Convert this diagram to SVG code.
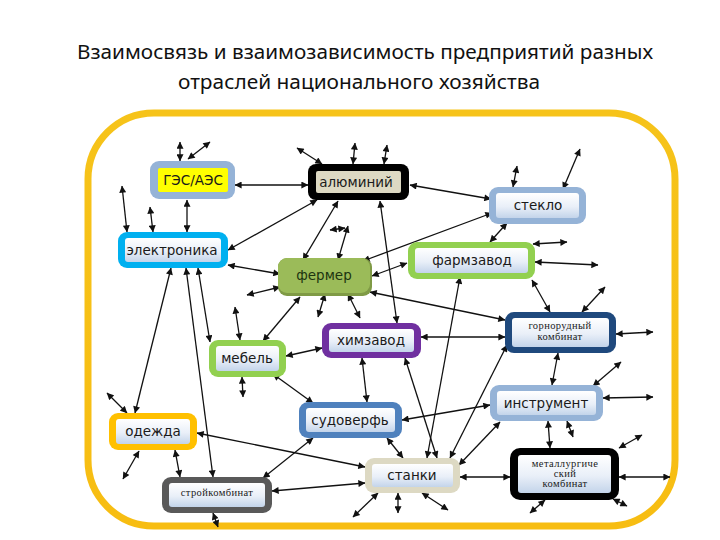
<svg xmlns="http://www.w3.org/2000/svg" width="720" height="540" viewBox="0 0 720 540">
<defs>
<linearGradient id="inner" x1="0" y1="0" x2="0" y2="1">
<stop offset="0" stop-color="#ffffff"/>
<stop offset="0.55" stop-color="#e9eff8"/>
<stop offset="1" stop-color="#c3d4ea"/>
</linearGradient>
<linearGradient id="frameg" x1="0" y1="0" x2="0" y2="1">
<stop offset="0" stop-color="#f6c31a"/>
<stop offset="1" stop-color="#f7bd12"/>
</linearGradient>
<marker id="ah" viewBox="0 0 10 10" refX="9.5" refY="5" markerWidth="8" markerHeight="7" markerUnits="userSpaceOnUse" orient="auto-start-reverse">
<path d="M0,0 L10,5 L0,10 z" fill="#111"/>
</marker>
</defs>
<style>
.title{font-family:"Noto Sans","Open Sans","DejaVu Sans",sans-serif;font-size:20px;fill:#111;text-anchor:middle}
.lbl{font-family:"DejaVu Sans","Verdana",sans-serif;font-size:13.5px;fill:#1a1a1a;text-anchor:middle;dominant-baseline:central}
.sm{font-family:"Liberation Serif","Times New Roman",serif;font-size:10.5px;fill:#1a1a1a;text-anchor:middle;letter-spacing:0.4px}
.in{fill:url(#inner)}
#connectors line{stroke:#111;stroke-width:1.3;marker-start:url(#ah);marker-end:url(#ah)}
</style>
<rect width="720" height="540" fill="#ffffff"/>
<text class="title" x="365" y="59" textLength="576" lengthAdjust="spacingAndGlyphs">Взаимосвязь и взаимозависимость предприятий разных</text>
<text class="title" x="359" y="89" textLength="362" lengthAdjust="spacingAndGlyphs">отраслей национального хозяйства</text>
<rect id="frame" x="88" y="113" width="587" height="413" rx="66" ry="66" fill="none" stroke="url(#frameg)" stroke-width="7"/>

<g id="connectors">
<line x1="180" y1="142" x2="180" y2="161"/>
<line x1="188" y1="159" x2="210" y2="142"/>
<line x1="235" y1="185" x2="308" y2="185"/>
<line x1="187" y1="200" x2="187" y2="232"/>
<line x1="122" y1="186" x2="127" y2="232"/>
<line x1="150" y1="207" x2="153" y2="232"/>
<line x1="228" y1="250" x2="317" y2="200"/>
<line x1="228" y1="265" x2="280" y2="274"/>
<line x1="297" y1="148" x2="322" y2="164"/>
<line x1="355" y1="143" x2="353" y2="164"/>
<line x1="387" y1="145" x2="384" y2="164"/>
<line x1="410" y1="185" x2="491" y2="199"/>
<line x1="338" y1="201" x2="303" y2="260"/>
<line x1="380" y1="201" x2="397" y2="323"/>
<line x1="330" y1="230" x2="345" y2="228"/>
<line x1="348" y1="226" x2="338" y2="260"/>
<line x1="517" y1="166" x2="513" y2="187"/>
<line x1="580" y1="149" x2="563" y2="189"/>
<line x1="492" y1="213" x2="363" y2="261"/>
<line x1="507" y1="223" x2="490" y2="242"/>
<line x1="533" y1="244" x2="567" y2="242"/>
<line x1="535" y1="262" x2="598" y2="265"/>
<line x1="407" y1="263" x2="372" y2="276"/>
<line x1="532" y1="280" x2="550" y2="312"/>
<line x1="460" y1="277" x2="427" y2="458"/>
<line x1="247" y1="295" x2="280" y2="287"/>
<line x1="300" y1="297" x2="263" y2="341"/>
<line x1="325" y1="294" x2="318" y2="317"/>
<line x1="348" y1="294" x2="360" y2="318"/>
<line x1="370" y1="292" x2="505" y2="320"/>
<line x1="171" y1="268" x2="135" y2="413"/>
<line x1="186" y1="268" x2="213" y2="477"/>
<line x1="198" y1="268" x2="210" y2="342"/>
<line x1="235" y1="307" x2="240" y2="340"/>
<line x1="242" y1="377" x2="243" y2="397"/>
<line x1="286" y1="356" x2="322" y2="348"/>
<line x1="273" y1="374" x2="313" y2="403"/>
<line x1="421" y1="337" x2="505" y2="337"/>
<line x1="362" y1="358" x2="367" y2="402"/>
<line x1="405" y1="358" x2="437" y2="458"/>
<line x1="582" y1="312" x2="605" y2="287"/>
<line x1="616" y1="334" x2="653" y2="332"/>
<line x1="558" y1="353" x2="552" y2="385"/>
<line x1="507" y1="345" x2="450" y2="458"/>
<line x1="593" y1="386" x2="621" y2="362"/>
<line x1="603" y1="398" x2="653" y2="397"/>
<line x1="567" y1="421" x2="573" y2="437"/>
<line x1="548" y1="421" x2="550" y2="448"/>
<line x1="490" y1="405" x2="402" y2="420"/>
<line x1="500" y1="422" x2="459" y2="465"/>
<line x1="387" y1="438" x2="403" y2="458"/>
<line x1="313" y1="438" x2="263" y2="478"/>
<line x1="107" y1="393" x2="127" y2="413"/>
<line x1="139" y1="451" x2="123" y2="479"/>
<line x1="175" y1="450" x2="180" y2="477"/>
<line x1="197" y1="433" x2="365" y2="467"/>
<line x1="272" y1="491" x2="365" y2="483"/>
<line x1="213" y1="513" x2="218" y2="527"/>
<line x1="378" y1="493" x2="353" y2="517"/>
<line x1="398" y1="493" x2="398" y2="513"/>
<line x1="422" y1="493" x2="448" y2="510"/>
<line x1="460" y1="477" x2="510" y2="477"/>
<line x1="619" y1="448" x2="642" y2="435"/>
<line x1="619" y1="477" x2="670" y2="477"/>
<line x1="613" y1="499" x2="627" y2="506"/>
<line x1="545" y1="500" x2="530" y2="513"/>
</g>

<g id="n-ges">
<rect x="150" y="161" width="85" height="38" rx="9" fill="#95b3d7"/>
<rect x="158" y="168" width="70" height="24" rx="2" fill="#ffff00"/>
<text class="lbl" x="193" y="180">ГЭС/АЭС</text>
</g>
<g id="n-aluminum">
<rect x="308" y="164" width="101" height="36" rx="8" fill="#000"/>
<rect x="316" y="171" width="85" height="22" rx="2" fill="#ddd9c3"/>
<text class="lbl" x="356" y="182">алюминий</text>
</g>
<g id="n-glass">
<rect x="489" y="187" width="97" height="37" rx="9" fill="#95b3d7"/>
<rect x="496" y="193" width="83" height="25" rx="3" class="in"/>
<text class="lbl" x="538" y="205">стекло</text>
</g>
<g id="n-electronics">
<rect x="118" y="232" width="110" height="36" rx="9" fill="#00b0f0"/>
<rect x="125" y="238" width="96" height="24" rx="3" class="in"/>
<text class="lbl" x="172" y="250">электроника</text>
</g>
<g id="n-pharma">
<rect x="408" y="242" width="127" height="37" rx="9" fill="#92d050"/>
<rect x="415" y="248" width="113" height="25" rx="3" class="in"/>
<text class="lbl" x="472" y="260">фармзавод</text>
</g>
<g id="n-farmer">
<rect x="278" y="258" width="94" height="38" rx="9" fill="#7f9a45"/>
<rect x="278" y="258" width="92" height="35" rx="9" fill="#9bbb59"/>
<text class="lbl" x="324" y="275" style="fill:#1d3510">фермер</text>
</g>
<g id="n-mining">
<rect x="505" y="312" width="111" height="41" rx="9" fill="#1f497d"/>
<rect x="512" y="318" width="97" height="29" rx="3" class="in"/>
<text class="sm" x="560" y="329">горнорудный</text>
<text class="sm" x="560" y="340">комбинат</text>
</g>
<g id="n-chem">
<rect x="322" y="323" width="99" height="35" rx="9" fill="#7030a0"/>
<rect x="329" y="329" width="85" height="23" rx="3" class="in"/>
<text class="lbl" x="371" y="340">химзавод</text>
</g>
<g id="n-furniture">
<rect x="209" y="340" width="77" height="37" rx="9" fill="#92d050"/>
<rect x="216" y="346" width="63" height="25" rx="3" class="in"/>
<text class="lbl" x="247" y="358">мебель</text>
</g>
<g id="n-tools">
<rect x="490" y="385" width="113" height="36" rx="9" fill="#95b3d7"/>
<rect x="497" y="391" width="99" height="24" rx="3" class="in"/>
<text class="lbl" x="546" y="403">инструмент</text>
</g>
<g id="n-shipyard">
<rect x="299" y="402" width="103" height="36" rx="9" fill="#4f81bd"/>
<rect x="306" y="408" width="89" height="24" rx="3" class="in"/>
<text class="lbl" x="350" y="420">судоверфь</text>
</g>
<g id="n-clothes">
<rect x="109" y="413" width="88" height="37" rx="9" fill="#ffc000"/>
<rect x="116" y="419" width="74" height="25" rx="3" class="in"/>
<text class="lbl" x="153" y="431">одежда</text>
</g>
<g id="n-machines">
<rect x="365" y="458" width="95" height="35" rx="9" fill="#ddd9c3"/>
<rect x="372" y="464" width="81" height="23" rx="3" class="in"/>
<text class="lbl" x="412" y="475">станки</text>
</g>
<g id="n-metal">
<rect x="510" y="448" width="109" height="52" rx="10" fill="#000"/>
<rect x="518" y="455" width="93" height="38" rx="3" class="in"/>
<text class="sm" x="565" y="467">металлургиче</text>
<text class="sm" x="565" y="477">ский</text>
<text class="sm" x="565" y="487">комбинат</text>
</g>
<g id="n-construction">
<rect x="162" y="477" width="110" height="36" rx="9" fill="#595959"/>
<rect x="169" y="483" width="96" height="24" rx="3" class="in"/>
<text class="sm" x="217" y="496">стройкомбинат</text>
</g>
</svg>
